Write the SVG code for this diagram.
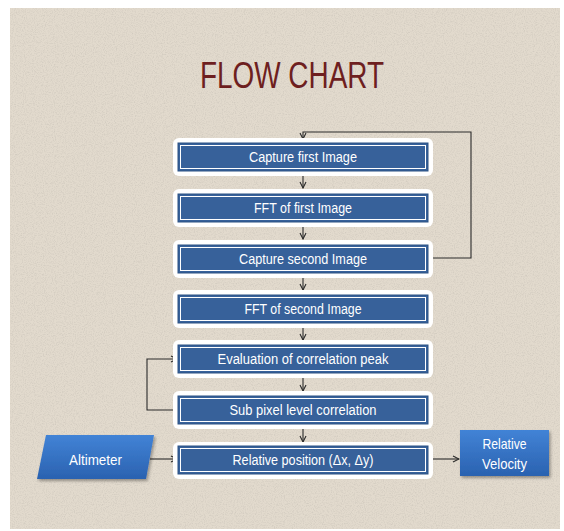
<svg xmlns="http://www.w3.org/2000/svg" width="564" height="531" viewBox="0 0 564 531">
  <defs>
    <style>
      .title { font-family: "Liberation Sans", Arial, sans-serif; font-size: 36px; fill: #6e1f1f; }
      .lbl { font-family: "Liberation Sans", Arial, sans-serif; font-size: 14px; fill: #ffffff; }
      .lbl2 { font-family: "Liberation Sans", Arial, sans-serif; font-size: 15px; fill: #ffffff; }
      .plate { fill: #ffffff; }
      .step { fill: #37619a; stroke: #2c5283; stroke-width: 1; }
      .inset { fill: none; stroke: #ffffff; stroke-width: 1; }
      .conn { fill: none; stroke: #2a2a2a; stroke-width: 1.1; }
    </style>
    <marker id="arr" viewBox="0 0 8 8" refX="7" refY="4" markerWidth="8" markerHeight="8" markerUnits="userSpaceOnUse" orient="auto">
      <path d="M1,1 L7,4 L1,7" fill="none" stroke="#2a2a2a" stroke-width="1.1"/>
    </marker>
    <linearGradient id="blueGrad" x1="0" y1="0" x2="0" y2="1">
      <stop offset="0" stop-color="#4283d6"/>
      <stop offset="1" stop-color="#2a62b0"/>
    </linearGradient>
    <filter id="shadow" x="-10%" y="-10%" width="130%" height="140%">
      <feDropShadow dx="1.5" dy="2" stdDeviation="1.5" flood-color="#000" flood-opacity="0.35"/>
    </filter>
    <filter id="grain" x="0" y="0" width="100%" height="100%">
      <feTurbulence type="fractalNoise" baseFrequency="0.9" numOctaves="2" seed="4" result="n"/>
      <feColorMatrix in="n" type="matrix" values="0 0 0 0 0.45  0 0 0 0 0.42  0 0 0 0 0.38  0 0 0 -2.2 1.25"/>
    </filter>
  </defs>

  <!-- page -->
  <rect x="0" y="0" width="564" height="531" fill="#ffffff"/>
  <rect x="10" y="8" width="550" height="521" fill="#e2dacd"/>
  <rect x="10" y="8" width="550" height="521" filter="url(#grain)" opacity="0.35"/>

  <text class="title" x="292" y="88" text-anchor="middle" textLength="184" lengthAdjust="spacingAndGlyphs">FLOW CHART</text>

  <!-- connectors -->
  <g id="connectors">
    <line class="conn" x1="303" y1="176" x2="303" y2="188" marker-end="url(#arr)"/>
    <line class="conn" x1="303" y1="227" x2="303" y2="239" marker-end="url(#arr)"/>
    <line class="conn" x1="303" y1="278" x2="303" y2="290" marker-end="url(#arr)"/>
    <line class="conn" x1="303" y1="328" x2="303" y2="340" marker-end="url(#arr)"/>
    <line class="conn" x1="303" y1="378" x2="303" y2="391" marker-end="url(#arr)"/>
    <line class="conn" x1="303" y1="429" x2="303" y2="442" marker-end="url(#arr)"/>
    <!-- repeat loop back to first capture -->
    <polyline class="conn" points="428,258 471,258 471,132 303,132 303,139" marker-end="url(#arr)"/>
    <!-- refinement loop -->
    <polyline class="conn" points="177,410 147,410 147,359 177,359" marker-end="url(#arr)"/>
    <line class="conn" x1="150" y1="459" x2="177" y2="459" marker-end="url(#arr)"/>
    <line class="conn" x1="429" y1="459" x2="459" y2="459" marker-end="url(#arr)"/>
  </g>

  <g id="capture-first">
    <rect class="plate" x="173" y="138" width="260" height="38" rx="6"/>
    <rect class="step" x="178" y="143" width="250" height="28"/>
    <rect class="inset" x="180.5" y="145.5" width="245" height="23"/>
    <text class="lbl" x="303" y="162" text-anchor="middle" textLength="108" lengthAdjust="spacingAndGlyphs">Capture first Image</text>
  </g>

  <g id="fft-first">
    <rect class="plate" x="173" y="189" width="260" height="38" rx="6"/>
    <rect class="step" x="178" y="194" width="250" height="28"/>
    <rect class="inset" x="180.5" y="196.5" width="245" height="23"/>
    <text class="lbl" x="303" y="213" text-anchor="middle" textLength="98" lengthAdjust="spacingAndGlyphs">FFT of first Image</text>
  </g>

  <g id="capture-second">
    <rect class="plate" x="173" y="240" width="260" height="38" rx="6"/>
    <rect class="step" x="178" y="245" width="250" height="28"/>
    <rect class="inset" x="180.5" y="247.5" width="245" height="23"/>
    <text class="lbl" x="303" y="264" text-anchor="middle" textLength="128" lengthAdjust="spacingAndGlyphs">Capture second Image</text>
  </g>

  <g id="fft-second">
    <rect class="plate" x="173" y="290" width="260" height="38" rx="6"/>
    <rect class="step" x="178" y="295" width="250" height="28"/>
    <rect class="inset" x="180.5" y="297.5" width="245" height="23"/>
    <text class="lbl" x="303" y="314" text-anchor="middle" textLength="117" lengthAdjust="spacingAndGlyphs">FFT of second Image</text>
  </g>

  <g id="correlation-peak">
    <rect class="plate" x="173" y="340" width="260" height="38" rx="6"/>
    <rect class="step" x="178" y="345" width="250" height="28"/>
    <rect class="inset" x="180.5" y="347.5" width="245" height="23"/>
    <text class="lbl" x="303" y="364" text-anchor="middle" textLength="171" lengthAdjust="spacingAndGlyphs">Evaluation of correlation peak</text>
  </g>

  <g id="subpixel">
    <rect class="plate" x="173" y="391" width="260" height="38" rx="6"/>
    <rect class="step" x="178" y="396" width="250" height="28"/>
    <rect class="inset" x="180.5" y="398.5" width="245" height="23"/>
    <text class="lbl" x="303" y="415" text-anchor="middle" textLength="147" lengthAdjust="spacingAndGlyphs">Sub pixel level correlation</text>
  </g>

  <g id="relative-position">
    <rect class="plate" x="173" y="442" width="260" height="37" rx="6"/>
    <rect class="step" x="178" y="446" width="250" height="28"/>
    <rect class="inset" x="180.5" y="448.5" width="245" height="23"/>
    <text class="lbl" x="303" y="465" text-anchor="middle" textLength="141" lengthAdjust="spacingAndGlyphs">Relative position (Δx, Δy)</text>
  </g>

  <g id="altimeter">
    <polygon points="46,435 154,435 146,479 37,479" fill="url(#blueGrad)" filter="url(#shadow)"/>
    <text class="lbl2" x="95.5" y="465" text-anchor="middle" textLength="53" lengthAdjust="spacingAndGlyphs">Altimeter</text>
  </g>

  <g id="relative-velocity">
    <rect x="460" y="430" width="89" height="46" fill="url(#blueGrad)" filter="url(#shadow)"/>
    <text class="lbl2" x="504.5" y="449" text-anchor="middle" textLength="44" lengthAdjust="spacingAndGlyphs">Relative</text>
    <text class="lbl2" x="504.5" y="469" text-anchor="middle" textLength="45" lengthAdjust="spacingAndGlyphs">Velocity</text>
  </g>
</svg>
